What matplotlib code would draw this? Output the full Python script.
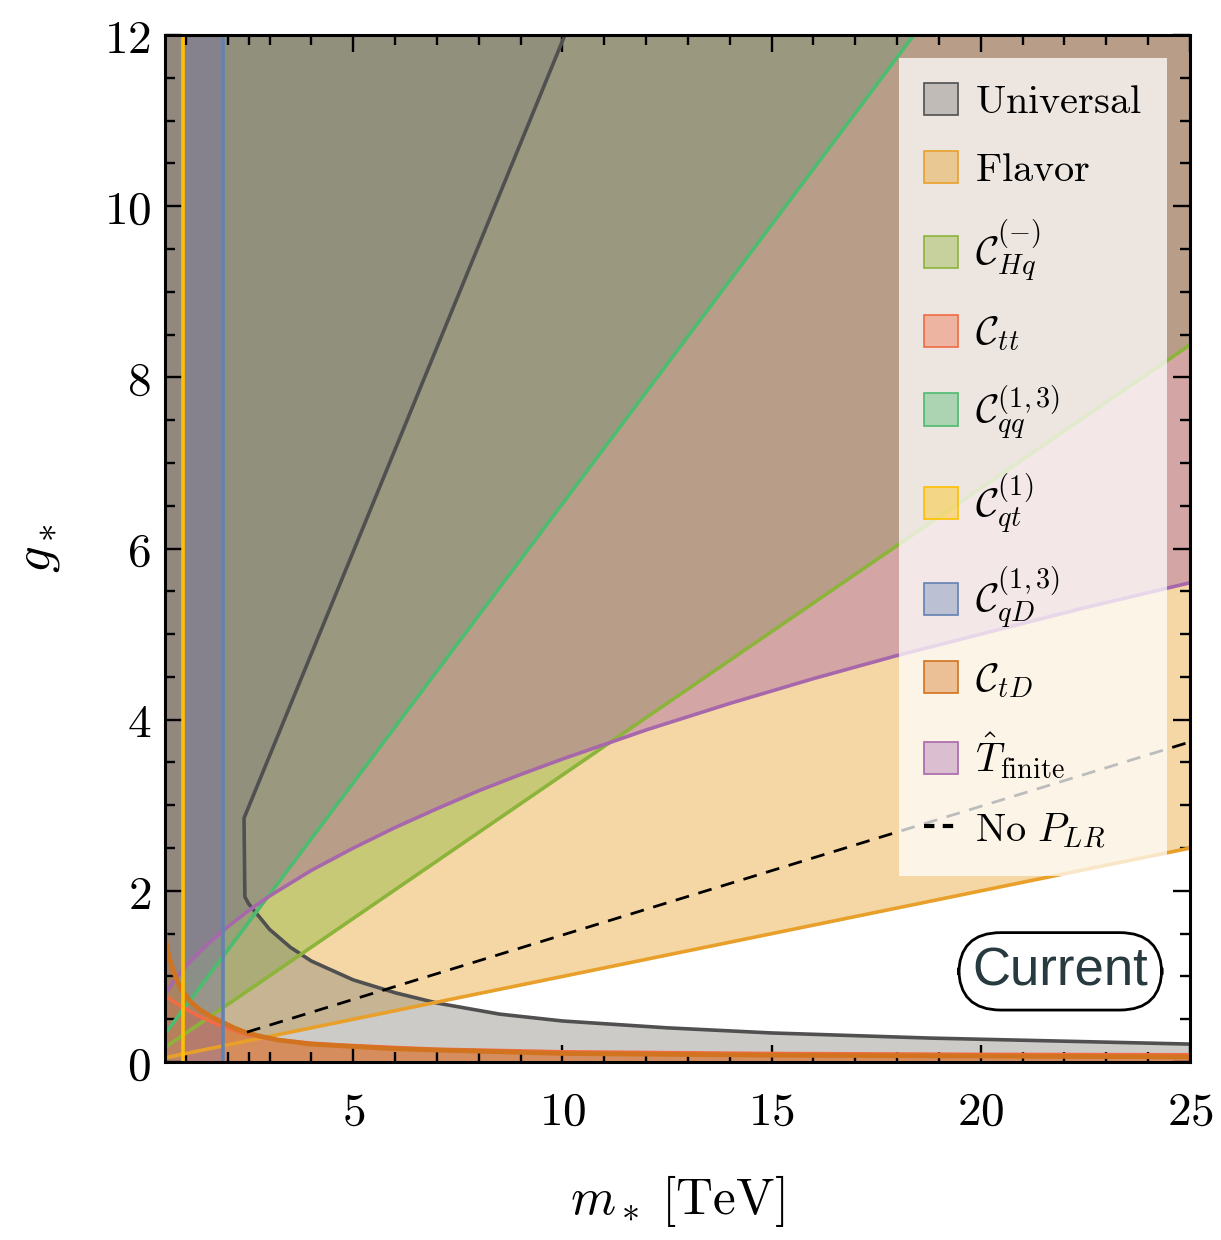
import numpy as np
import matplotlib
matplotlib.use('Agg')
import matplotlib.pyplot as plt
from matplotlib.patches import Patch
from matplotlib.lines import Line2D
from matplotlib.colors import to_rgba

plt.rcParams['mathtext.fontset'] = 'cm'
plt.rcParams['font.family'] = ['DejaVu Serif']

# values: m_* [TeV] vs g_*
m_lo, m_hi = 0.5, 25
g_lo, g_hi = 0, 12

univ_m = [10.06, 2.39, 2.41, 2.5, 3.0, 3.5, 4.0, 5.0, 6.0, 7.0, 8.5, 10, 12.5, 15, 18.8, 25]
univ_g = [12, 2.85, 1.93, 1.85, 1.55, 1.34, 1.18, 0.96, 0.81, 0.69, 0.56, 0.48, 0.40, 0.34, 0.28, 0.21]

flavor_m = [0.5, 25]
flavor_g = [0.05, 2.5]

hq_m = [0.5, 25]
hq_g = [0.17, 8.38]

qq_m = [0.5, 18.4]
qq_g = [0.33, 12]

tfin_m = [0.5, 0.75, 1, 1.5, 2, 2.5, 3, 4, 5, 6, 7, 8, 9, 10, 12, 14, 16, 18, 20, 22.5, 25]
tfin_g = [0.79, 0.97, 1.12, 1.37, 1.58, 1.77, 1.94, 2.24, 2.5, 2.74, 2.96, 3.17, 3.36, 3.54,
          3.88, 4.19, 4.48, 4.75, 5.0, 5.31, 5.6]

tt_m = [0.5, 0.7, 0.93, 1.34, 1.86, 2.46, 3.18, 4.0, 4.68, 6, 7, 8.5, 10, 12.5, 15, 20, 25]
tt_g = [0.78, 0.71, 0.64, 0.53, 0.42, 0.32, 0.26, 0.22, 0.20, 0.17, 0.15, 0.135, 0.12, 0.11,
        0.10, 0.09, 0.085]

td_m = [0.5, 0.55, 0.6, 0.7, 0.8, 0.93, 1.1, 1.34, 1.6, 1.86, 2.15, 2.46, 2.8, 3.18, 3.97,
        4.68, 6, 7, 8.5, 10, 12.5, 15, 20, 25]
td_g = [1.5, 1.33, 1.22, 1.07, 0.94, 0.82, 0.71, 0.61, 0.53, 0.47, 0.40, 0.34, 0.30, 0.26,
        0.21, 0.19, 0.155, 0.14, 0.12, 0.10, 0.09, 0.08, 0.07, 0.06]

qt_m = 0.93
qd_m = 1.88

nolr_m = [2.46, 25]
nolr_g = [0.35, 3.74]

labels = ['$\\mathrm{Universal}$', '$\\mathrm{Flavor}$', '$\\mathcal{C}_{Hq}^{(-)}$',
          '$\\mathcal{C}_{tt}$', '$\\mathcal{C}_{qq}^{(1,3)}$', '$\\mathcal{C}_{qt}^{(1)}$',
          '$\\mathcal{C}_{qD}^{(1,3)}$', '$\\mathcal{C}_{tD}$', '$\\hat{T}_{\\mathrm{finite}}$',
          '$\\mathrm{No}\\ P_{LR}$']
line_cols = ['#505050', '#e8a02a', '#8db43a', '#f26b45', '#4dbb70', '#ffc000',
             '#6282b2', '#d2731f', '#a768ab']
fill_cols = ['#86857b', '#e8a02a', '#84b434', '#f26b45', '#559369', '#ffc000',
             '#6e64b4', '#d2731f', '#a25da5']
fill_alpha = [0.42, 0.42, 0.4, 0.4, 0.3, 0.1, 0.3, 0.45, 0.4]
leg_alpha = [0.28, 0.42, 0.4, 0.4, 0.4, 0.4, 0.38, 0.4, 0.38]

fig = plt.figure(figsize=(12.21, 12.40), dpi=100)
ax = fig.add_axes([0.1351, 0.1435, 0.8395, 0.8283])
lw = 2.6

# flavor, Hq, T_finite, qq: excluded above
ax.fill_between(flavor_m, flavor_g, g_hi, color=fill_cols[1], alpha=fill_alpha[1], lw=0)
ax.fill_between(hq_m, hq_g, g_hi, color=fill_cols[2], alpha=fill_alpha[2], lw=0)
ax.fill_between(tfin_m, tfin_g, g_hi, color=fill_cols[8], alpha=fill_alpha[8], lw=0)
ax.fill(qq_m + [m_lo], qq_g + [g_hi], color=fill_cols[4], alpha=fill_alpha[4], lw=0)
# universal: left of the line and below the curve
ax.fill(univ_m + [m_hi, m_lo, m_lo], univ_g + [g_lo, g_lo, g_hi],
        color=fill_cols[0], alpha=fill_alpha[0], lw=0)
# tt, tD: excluded below
ax.fill_between(tt_m, g_lo, tt_g, color=fill_cols[3], alpha=fill_alpha[3], lw=0)
ax.fill_between(td_m, g_lo, td_g, color=fill_cols[7], alpha=fill_alpha[7], lw=0)
# qD, qt: excluded at low mass
ax.axvspan(m_lo, qd_m, color=fill_cols[6], alpha=fill_alpha[6], lw=0)
ax.axvspan(m_lo, qt_m, color=fill_cols[5], alpha=fill_alpha[5], lw=0)

ax.plot(univ_m, univ_g, color=line_cols[0], lw=lw)
ax.plot(flavor_m, flavor_g, color=line_cols[1], lw=lw)
ax.plot(hq_m, hq_g, color=line_cols[2], lw=lw)
ax.plot(qq_m, qq_g, color=line_cols[4], lw=lw)
ax.plot(tfin_m, tfin_g, color=line_cols[8], lw=lw)
ax.plot(tt_m, tt_g, color=line_cols[3], lw=lw)
ax.plot(td_m, td_g, color=line_cols[7], lw=lw * 1.3)
ax.axvline(qt_m, color=line_cols[5], lw=lw)
ax.axvline(qd_m, color=line_cols[6], lw=lw)
ax.plot(nolr_m, nolr_g, color='black', lw=2, ls=(0, (5, 3.5)))

ax.set_xlim(m_lo, m_hi)
ax.set_ylim(g_lo, g_hi)

ax.set_xticks([5, 10, 15, 20, 25])
ax.set_xticks([1, 2, 2.5, 3, 4, 6, 7, 8, 9, 11, 12, 13, 14, 16, 17, 18, 19, 21, 22, 23, 24], minor=True)
ax.set_yticks(np.arange(0, 13, 2))
ax.set_yticks(np.arange(0, 12.01, 0.5), minor=True)
ax.set_xticklabels(['$%d$' % v for v in [5, 10, 15, 20, 25]])
ax.set_yticklabels(['$%d$' % v for v in range(0, 13, 2)])
ax.tick_params(which='both', direction='in', top=True, right=True, width=1.7, labelsize=34)
ax.tick_params(which='major', length=12, pad=10)
ax.tick_params(which='minor', length=7)
ax.tick_params(axis='x', pad=20)
for s in ax.spines.values():
    s.set_linewidth(2.2)

ax.set_xlabel('$m_* \\; [\\mathrm{TeV}]$', fontsize=37, labelpad=27)
ax.set_ylabel('$g_*$', fontsize=38, labelpad=30)

ax.text(21.9, 1.06, 'Current', fontsize=38, family='Liberation Sans', color='#263a40',
        ha='center', va='center',
        bbox=dict(boxstyle='round,pad=0.26,rounding_size=0.8', fc='white', ec='black', lw=2))

handles = []
for i in range(9):
    handles.append(Patch(facecolor=to_rgba(line_cols[i], leg_alpha[i]), edgecolor=line_cols[i], lw=1.2))
handles.append(Line2D([], [], color='black', lw=3, ls=(0, (2.5, 2))))
leg = ax.legend(handles, labels, loc='upper right',
                bbox_to_anchor=(0.9776, 0.9776), borderaxespad=0, fontsize=29,
                handlelength=0.85, handleheight=0.85, handletextpad=0.42,
                labelspacing=0.75, borderpad=0.62, fancybox=False, framealpha=0.74,
                facecolor='white', edgecolor='none')

fig.savefig('out.png', dpi=100)
